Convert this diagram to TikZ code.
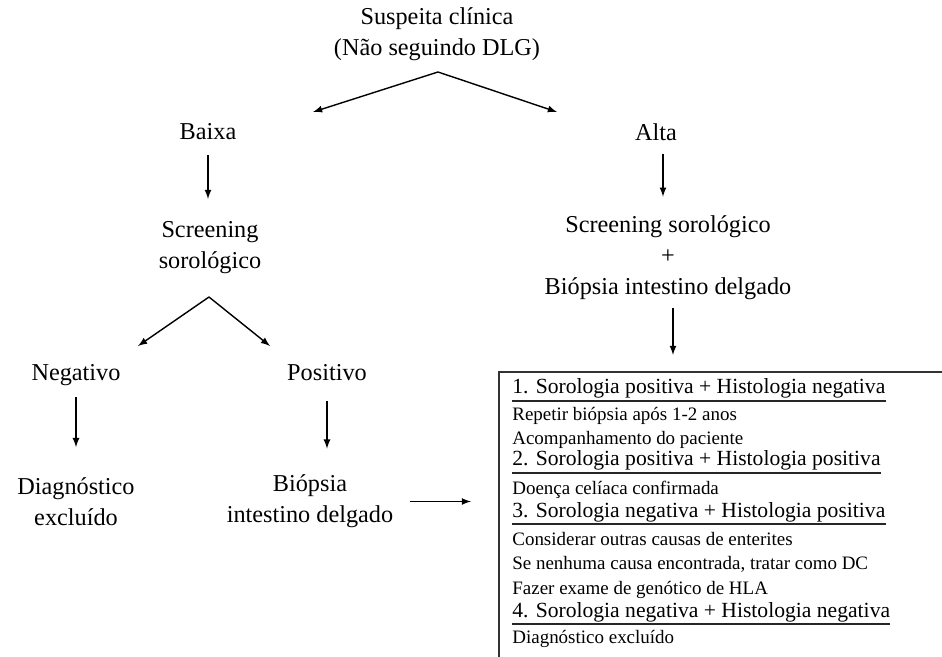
\documentclass[tikz,border=0pt]{standalone}
\usepackage{fontspec}
\setmainfont{Liberation Serif}
\usepackage{tikz}
\usetikzlibrary{arrows, positioning}

\begin{document}
\begin{tikzpicture}
        \useasboundingbox (0,0) rectangle (18.84,-13.14);
        \begin{scope}[every node/.style={align=center,inner sep=0pt,font=\fontsize{13.8}{17.6}\selectfont}]
          \node (susp) at (8.74,-0.68) {Suspeita clínica\\(Não seguindo DLG)};
          \node (baixa) at (4.16,-2.64) {Baixa};
          \node (alta) at (13.12,-2.64) {Alta};
          \node (scrn) at (4.2,-4.95) {Screening\\sorológico};
          \node (both) at (13.36,-5.15) {Screening sorológico\\+\\Biópsia intestino delgado};
          \node (neg) at (1.52,-7.5) {Negativo};
          \node (pos) at (6.54,-7.46) {Positivo};
          \node (excl) at (1.52,-10.03) {Diagnóstico\\excluído};
          \node (bio) at (6.2,-10.03) {Biópsia\\intestino delgado};
        \end{scope}
        \coordinate (fork) at (8.76,-1.44);
        \coordinate (lo) at (6.26,-2.24);
        \coordinate (hi) at (11.14,-2.24);
        \coordinate (fork2) at (4.18,-5.94);
        \coordinate (negend) at (2.76,-6.92);
        \coordinate (posend) at (5.4,-6.92);
        \coordinate (boxnw) at (9.98,-7.44);
        \coordinate (boxsw) at (9.98,-13.14);
        \coordinate (boxne) at (18.84,-7.44);
        % result box, cut off at the right and at the bottom
        \draw[line width=1.1pt,draw=black!80] (boxsw) -- (boxnw) -- (boxne);
        \begin{scope}[every node/.style={anchor=base west,inner sep=0pt}]
          \tikzset{head/.style={font=\fontsize{12.3}{14}\selectfont},
                   item/.style={font=\fontsize{10.8}{12}\selectfont}}
          \node[head] (h1) at (10.24,-7.88) {1. Sorologia positiva + Histologia negativa};
          \node[item] (r1) at (10.24,-8.42) {Repetir biópsia após 1-2 anos};
          \node[item] (r2) at (10.24,-8.90) {Acompanhamento do paciente};
          \node[head] (h2) at (10.24,-9.32) {2. Sorologia positiva + Histologia positiva};
          \node[item] (r3) at (10.24,-9.88) {Doença celíaca confirmada};
          \node[head] (h3) at (10.24,-10.34) {3. Sorologia negativa + Histologia positiva};
          \node[item] (r4) at (10.24,-10.90) {Considerar outras causas de enterites};
          \node[item] (r5) at (10.24,-11.38) {Se nenhuma causa encontrada, tratar como DC};
          \node[item] (r6) at (10.24,-11.88) {Fazer exame de genótico de HLA};
          \node[head] (h4) at (10.24,-12.34) {4. Sorologia negativa + Histologia negativa};
          \node[item] (r7) at (10.24,-12.86) {Diagnóstico excluído};
        \end{scope}
        \begin{scope}[line width=1pt,draw=black!85]
          \foreach \h in {h1,h2,h3,h4}
            \draw ([yshift=-1pt]\h.south west) -- ([yshift=-1pt]\h.south east);
        \end{scope}
        \begin{scope}[every edge/.style={draw=black,line width=0.8pt,-latex}]
          \path (fork) edge (lo);
          \path (fork) edge (hi);
          \path (baixa.south) edge[shorten <=0.3cm,shorten >=0.44cm] (baixa |- scrn.north);
          \path ([xshift=0.14cm]alta.south) edge[shorten <=0.26cm,shorten >=0.37cm] ([xshift=0.14cm]alta.south |- both.north);
          \path (fork2) edge (negend);
          \path (fork2) edge (posend);
          \path (neg.south) edge[shorten <=0.22cm,shorten >=0.6cm] (neg |- excl.north);
          \path (pos.south) edge[shorten <=0.4cm,shorten >=0.52cm] (pos |- bio.north);
          \path ([xshift=0.1cm]both.south) edge[shorten <=0.16cm,shorten >=0.34cm] ([xshift=0.1cm]both.south |- boxnw);
          \path (bio.east) edge[shorten <=0.32cm,shorten >=0.56cm] (bio.east -| boxnw);
        \end{scope}
      \end{tikzpicture}
\end{document}
